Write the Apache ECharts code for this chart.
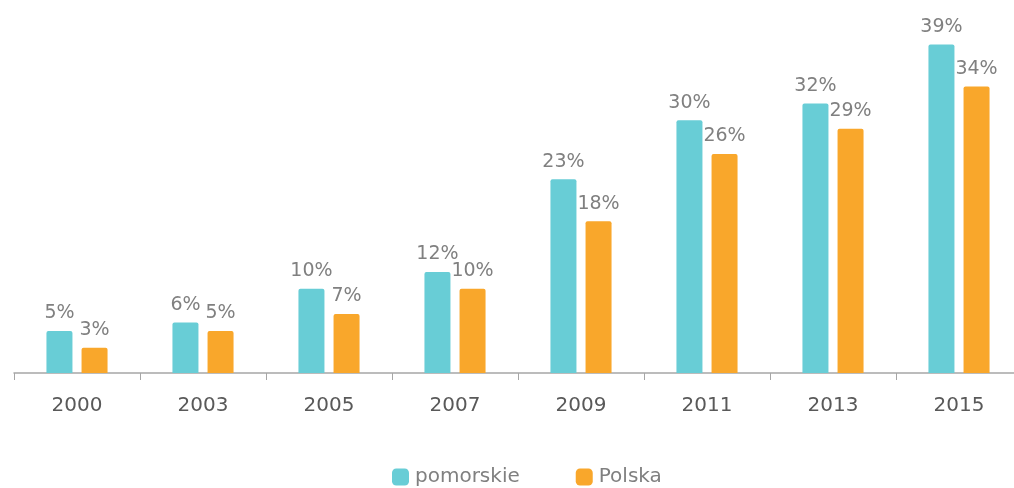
<!DOCTYPE html>
<html><head><meta charset="utf-8">
<script src="https://cdn.jsdelivr.net/npm/echarts@6/dist/echarts.min.js"></script>
<style>html,body{margin:0;padding:0;background:#fff}#c{width:1014px;height:488px}</style>
</head><body><div id="c"></div>
<script>
const categories = ['2000','2003','2005','2007','2009','2011','2013','2015'];
const pomorskie = [5, 6, 10, 12, 23, 30, 32, 39];
const polska = [3, 5, 7, 10, 18, 26, 29, 34];
const seriesNames = ['pomorskie', 'Polska'];

const FONT = '"DejaVu Sans", sans-serif';
const chart = echarts.init(document.getElementById('c'));
const lbl = {show:true, position:'top', distance:8, color:'#808080', fontSize:19, fontFamily:FONT, formatter: p => Math.round(p.value) + '%'};
chart.setOption({
  animation:false,
  grid:{left:14, width:1008, top:36, height:337, containLabel:false, outerBoundsMode:'none'},
  legend:{top:467, left:392, padding:0, itemWidth:17, itemHeight:17, itemGap:56, icon:'roundRect',
    textStyle:{color:'#808080', fontSize:20, fontFamily:FONT, padding:[0,0,0,1]}},
  xAxis:{type:'category', data:categories, boundaryGap:true,
    axisLine:{lineStyle:{color:'#a6a6a6', width:1.5}},
    axisTick:{show:true, length:7, lineStyle:{color:'#a6a6a6'}},
    axisLabel:{color:'#595959', fontSize:20, fontFamily:FONT, margin:23}},
  yAxis:{type:'value', min:0, max:40, show:false, splitLine:{show:false}},
  series:[
    {name:seriesNames[0], type:'bar', data:pomorskie, barWidth:26, barGap:'35%',
     itemStyle:{color:'#68cdd6', borderRadius:[2,2,0,0]}, label:lbl},
    {name:seriesNames[1], type:'bar', data:polska, barWidth:26,
     itemStyle:{color:'#f9a72b', borderRadius:[2,2,0,0]}, label:lbl}
  ]
});
</script></body></html>
